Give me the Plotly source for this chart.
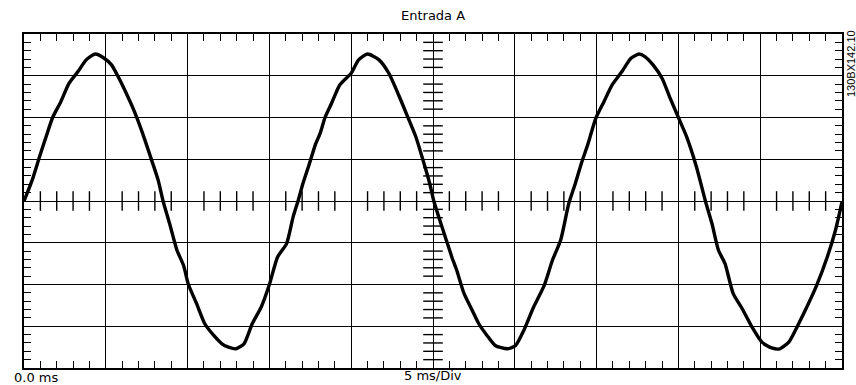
import plotly.graph_objects as go

# Scope capture, channel A: time in ms, level in screen divisions
TIME_MS = [
    0.0, 0.5, 0.95, 1.35, 1.75, 2.25, 2.75, 3.3, 3.8, 4.35,
    4.9, 5.35, 5.75, 6.25, 6.75, 7.25, 7.8, 8.2, 8.5, 8.9,
    9.35, 9.75, 10.05, 10.55, 11.05, 11.6, 12.1, 12.5, 12.95, 13.45,
    13.95, 14.5, 15.0, 15.5, 16.05, 16.45, 16.75, 17.05, 17.45, 17.8,
    18.1, 18.4, 18.8, 19.3, 20.0, 20.45, 21.0, 21.7, 22.3, 22.9,
    23.45, 23.95, 24.45, 24.8, 25.05, 25.35, 25.75, 26.15, 26.45, 26.9,
    27.4, 27.8, 28.3, 28.8, 29.55, 30.05, 30.55, 31.15, 31.8, 32.3,
    32.8, 33.3, 33.7, 34.1, 34.45, 34.95, 35.45, 35.95, 36.55, 37.1,
    37.6, 37.95, 38.45, 39.0, 39.5, 40.0, 40.5, 41.1, 41.65, 42.05,
    42.45, 42.85, 43.35, 43.9, 44.5, 45.1, 45.7, 46.2, 46.75, 47.35,
    47.85, 48.45, 49.1, 49.6, 50.0,
]
LEVEL_DIV = [
    0.0, 0.5, 1.06, 1.54, 2.0, 2.38, 2.82, 3.1, 3.38, 3.52,
    3.42, 3.26, 2.98, 2.58, 2.14, 1.62, 0.98, 0.5, 0.0, -0.54,
    -1.18, -1.54, -2.0, -2.46, -2.94, -3.22, -3.42, -3.5, -3.54, -3.42,
    -2.94, -2.54, -2.0, -1.34, -1.02, -0.38, 0.0, 0.42, 0.9, 1.34,
    1.62, 2.0, 2.34, 2.78, 3.06, 3.38, 3.52, 3.38, 3.06, 2.54,
    2.02, 1.54, 0.9, 0.42, 0.0, -0.38, -0.86, -1.34, -1.66, -2.22,
    -2.62, -2.94, -3.22, -3.46, -3.54, -3.46, -3.10, -2.54, -2.02, -1.42,
    -0.94, -0.06, 0.42, 0.94, 1.34, 1.98, 2.38, 2.78, 3.1, 3.42,
    3.52, 3.46, 3.26, 2.94, 2.46, 2.0, 1.54, 0.82, 0.0, -0.54,
    -1.18, -1.50, -2.22, -2.58, -3.02, -3.38, -3.52, -3.54, -3.38, -2.94,
    -2.54, -2.02, -1.34, -0.70, -0.02,
]
assert len(TIME_MS) == len(LEVEL_DIV)

MS_PER_DIV = 5
X_DIVS = 10
Y_DIVS = 8
SUBDIV = 5

x_max = MS_PER_DIV * X_DIVS
y_half = Y_DIVS / 2

fig = go.Figure()

# Minor ticks crossing the centre graticule lines
x_centre_ticks = [i * MS_PER_DIV / SUBDIV for i in range(X_DIVS * SUBDIV + 1) if i % SUBDIV]
y_centre_ticks = [-y_half + i / SUBDIV for i in range(Y_DIVS * SUBDIV + 1) if i % SUBDIV]

fig.add_trace(go.Scatter(
    x=x_centre_ticks, y=[0] * len(x_centre_ticks), mode="markers",
    marker=dict(symbol="line-ns", size=14, line=dict(color="black", width=1.4)),
    hoverinfo="skip", showlegend=False,
))
fig.add_trace(go.Scatter(
    x=[x_max / 2] * len(y_centre_ticks), y=y_centre_ticks, mode="markers",
    marker=dict(symbol="line-ew", size=14, line=dict(color="black", width=1.4)),
    hoverinfo="skip", showlegend=False,
))

fig.add_trace(go.Scatter(
    x=TIME_MS, y=LEVEL_DIV, mode="lines",
    line=dict(color="black", width=3.4, shape="spline", smoothing=0.6),
    showlegend=False,
))

axis_common = dict(
    showgrid=True, gridcolor="black", gridwidth=1.4,
    showline=True, linecolor="black", linewidth=1.8, mirror="ticks",
    zeroline=False, showticklabels=False, ticks="",
    fixedrange=True,
)

fig.update_xaxes(
    range=[0, x_max], tick0=0, dtick=MS_PER_DIV,
    minor=dict(dtick=MS_PER_DIV / SUBDIV, ticks="inside", ticklen=7,
               tickwidth=1.4, tickcolor="black", showgrid=False),
    **axis_common,
)
fig.update_yaxes(
    range=[-y_half, y_half], tick0=0, dtick=1,
    minor=dict(dtick=1 / SUBDIV, ticks="inside", ticklen=7,
               tickwidth=1.4, tickcolor="black", showgrid=False),
    **axis_common,
)

label_font = dict(family="DejaVu Sans", size=13, color="black")

fig.update_layout(
    width=856, height=385,
    margin=dict(l=24, r=14, t=34, b=17, pad=0),
    paper_bgcolor="white", plot_bgcolor="white",
    annotations=[
        dict(text="Entrada A", xref="paper", yref="paper", x=0.5, y=1.054,
             xanchor="center", yanchor="middle", showarrow=False, font=label_font),
        dict(text="0.0 ms", xref="paper", yref="paper", x=-0.015, y=-0.028,
             xanchor="left", yanchor="middle", showarrow=False, font=label_font),
        dict(text="5 ms/Div", xref="paper", yref="paper", x=0.5, y=-0.022,
             xanchor="center", yanchor="middle", showarrow=False, font=label_font),
        dict(text="130BX142.10", xref="paper", yref="paper", x=1.011, y=0.913,
             xanchor="center", yanchor="middle", textangle=-90, showarrow=False,
             font=dict(family="Liberation Sans", size=11, color="black")),
    ],
)

fig.write_html("out.html")
